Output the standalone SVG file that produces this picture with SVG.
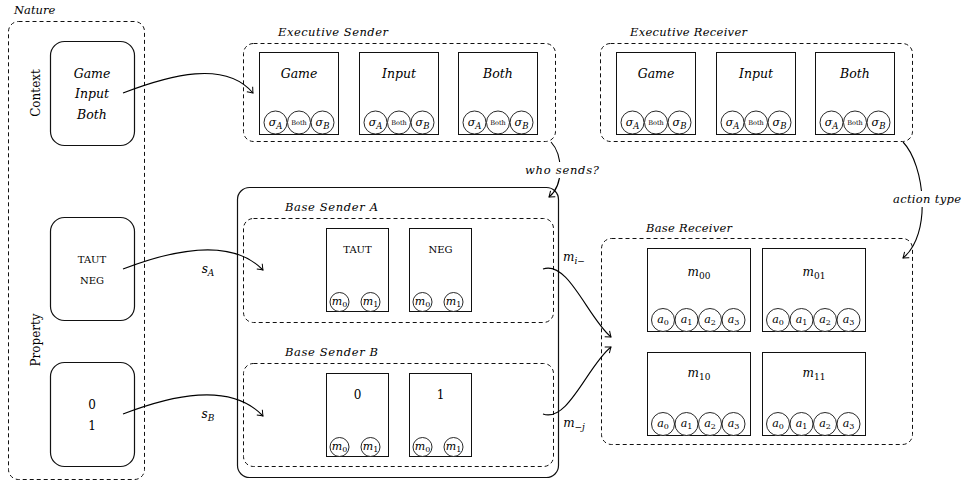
<svg xmlns="http://www.w3.org/2000/svg" width="962" height="491" viewBox="0 0 962 491">
<style>
text{font-family:'DejaVu Serif','Liberation Serif',serif;fill:#000}
.it{font-style:italic}
.dash{fill:none;stroke:#111;stroke-width:1;stroke-dasharray:4 3}
.solid{fill:none;stroke:#111;stroke-width:1.2}
.box{fill:#fff;stroke:#111;stroke-width:1}
.circ{fill:#fff;stroke:#111;stroke-width:0.9}
.conn{fill:none;stroke:#000;stroke-width:1.1;marker-end:url(#arr)}
.lbl{font-size:12px;text-anchor:middle}
.big{font-size:12.5px;font-style:italic;text-anchor:middle}
.sig{font-size:11px;text-anchor:middle}
</style>
<defs>
<marker id="arr" viewBox="-6 -5 8 10" refX="0" refY="0" markerWidth="8" markerHeight="10" orient="auto" markerUnits="userSpaceOnUse">
<path d="M-5,-3.8 Q-1.5,-1 0,0 Q-1.5,1 -5,3.8" fill="none" stroke="#000" stroke-width="1"/>
</marker>
<g id="sigrow">
<circle class="circ" cx="16" cy="0" r="11.5"/>
<circle class="circ" cx="39.5" cy="0" r="11.5"/>
<circle class="circ" cx="63" cy="0" r="11.5"/>
<text class="sig" x="16" y="3"><tspan class="it">σ</tspan><tspan font-size="8.5" dy="3" class="it">A</tspan></text>
<text x="39.5" y="2.5" font-size="6.5" text-anchor="middle">Both</text>
<text class="sig" x="63" y="3"><tspan class="it">σ</tspan><tspan font-size="8.5" dy="3" class="it">B</tspan></text>
</g>
<g id="mrow">
<circle class="circ" cx="13" cy="0" r="9.5"/>
<circle class="circ" cx="44" cy="0" r="9.5"/>
<text class="sig" x="13" y="3"><tspan class="it">m</tspan><tspan font-size="8" dy="2">0</tspan></text>
<text class="sig" x="44" y="3"><tspan class="it">m</tspan><tspan font-size="8" dy="2">1</tspan></text>
</g>
<g id="arow">
<circle class="circ" cx="15.5" cy="0" r="11.5"/>
<circle class="circ" cx="39" cy="0" r="11.5"/>
<circle class="circ" cx="62.5" cy="0" r="11.5"/>
<circle class="circ" cx="86" cy="0" r="11.5"/>
<text class="sig" x="15.5" y="3"><tspan class="it">a</tspan><tspan font-size="8" dy="2">0</tspan></text>
<text class="sig" x="39" y="3"><tspan class="it">a</tspan><tspan font-size="8" dy="2">1</tspan></text>
<text class="sig" x="62.5" y="3"><tspan class="it">a</tspan><tspan font-size="8" dy="2">2</tspan></text>
<text class="sig" x="86" y="3"><tspan class="it">a</tspan><tspan font-size="8" dy="2">3</tspan></text>
</g>
</defs>
<rect width="962" height="491" fill="#fff"/>

<g id="nature">
<rect class="dash" x="8.5" y="21.5" width="136" height="458" rx="10"/>
<text class="it" x="14" y="14" font-size="11.5">Nature</text>
<text class="lbl" transform="translate(40,93) rotate(-90)">Context</text>
<text class="lbl" transform="translate(40,340) rotate(-90)">Property</text>
</g>
<g id="context">
<rect class="solid" x="50.5" y="41.5" width="84" height="104" rx="14"/>
<text class="big" x="92" y="78">Game</text>
<text class="big" x="92" y="98">Input</text>
<text class="big" x="92" y="119">Both</text>
</g>
<g id="prop-ab">
<rect class="solid" x="50.5" y="217.5" width="84" height="103" rx="14"/>
<text x="92" y="263" font-size="10" text-anchor="middle">TAUT</text>
<text x="92" y="284" font-size="10" text-anchor="middle">NEG</text>
</g>
<g id="prop-01">
<rect class="solid" x="50.5" y="362.5" width="84" height="104" rx="14"/>
<text class="lbl" x="92" y="409">0</text>
<text class="lbl" x="92" y="430">1</text>
</g>

<g id="exec-sender">
<rect class="dash" x="243.5" y="43.5" width="312" height="98" rx="10"/>
<text class="it" x="278" y="36" font-size="11.5" textLength="110">Executive Sender</text>
<rect class="box" x="259.5" y="52.5" width="79" height="82"/>
<text class="big" x="299" y="78">Game</text>
<use href="#sigrow" x="259.5" y="122.5"/>
<rect class="box" x="359.5" y="52.5" width="79" height="82"/>
<text class="big" x="399" y="78">Input</text>
<use href="#sigrow" x="359.5" y="122.5"/>
<rect class="box" x="458.5" y="52.5" width="79" height="82"/>
<text class="big" x="498" y="78">Both</text>
<use href="#sigrow" x="458.5" y="122.5"/>
</g>

<g id="exec-receiver">
<rect class="dash" x="600.5" y="43.5" width="312" height="98" rx="10"/>
<text class="it" x="630" y="36" font-size="11.5" textLength="117">Executive Receiver</text>
<rect class="box" x="616.5" y="52.5" width="79" height="82"/>
<text class="big" x="656" y="78">Game</text>
<use href="#sigrow" x="616.5" y="122.5"/>
<rect class="box" x="716.5" y="52.5" width="79" height="82"/>
<text class="big" x="756" y="78">Input</text>
<use href="#sigrow" x="716.5" y="122.5"/>
<rect class="box" x="815.5" y="52.5" width="79" height="82"/>
<text class="big" x="855" y="78">Both</text>
<use href="#sigrow" x="815.5" y="122.5"/>
</g>

<g id="base-sender">
<rect class="solid" x="237.5" y="187.5" width="321" height="290" rx="12"/>
</g>
<g id="base-sender-a">
<rect class="dash" x="243.5" y="218.5" width="310" height="104" rx="10"/>
<text class="it" x="285" y="211" font-size="11.5" textLength="93">Base Sender A</text>
<rect class="box" x="326.5" y="228.5" width="62" height="83"/>
<text x="357.5" y="253" font-size="10" text-anchor="middle">TAUT</text>
<use href="#mrow" x="326.5" y="302"/>
<rect class="box" x="409.5" y="228.5" width="62" height="83"/>
<text x="440.5" y="253" font-size="10" text-anchor="middle">NEG</text>
<use href="#mrow" x="409.5" y="302"/>
</g>
<g id="base-sender-b">
<rect class="dash" x="243.5" y="363.5" width="310" height="103" rx="10"/>
<text class="it" x="285" y="356" font-size="11.5" textLength="93">Base Sender B</text>
<rect class="box" x="326.5" y="373.5" width="62" height="83"/>
<text class="lbl" x="357.5" y="399">0</text>
<use href="#mrow" x="326.5" y="447"/>
<rect class="box" x="409.5" y="373.5" width="62" height="83"/>
<text class="lbl" x="440.5" y="399">1</text>
<use href="#mrow" x="409.5" y="447"/>
</g>

<g id="base-receiver">
<rect class="dash" x="601.5" y="238.5" width="311" height="206" rx="10"/>
<text class="it" x="646" y="232" font-size="11.5" textLength="86">Base Receiver</text>
<rect class="box" x="647.5" y="248.5" width="103" height="83"/>
<text class="lbl" x="699" y="276"><tspan class="it">m</tspan><tspan font-size="9" dy="3">00</tspan></text>
<use href="#arow" x="647.5" y="320"/>
<rect class="box" x="762.5" y="248.5" width="103" height="83"/>
<text class="lbl" x="814" y="276"><tspan class="it">m</tspan><tspan font-size="9" dy="3">01</tspan></text>
<use href="#arow" x="762.5" y="320"/>
<rect class="box" x="647.5" y="352.5" width="103" height="83"/>
<text class="lbl" x="699" y="377"><tspan class="it">m</tspan><tspan font-size="9" dy="3">10</tspan></text>
<use href="#arow" x="647.5" y="424"/>
<rect class="box" x="762.5" y="352.5" width="103" height="83"/>
<text class="lbl" x="814" y="377"><tspan class="it">m</tspan><tspan font-size="9" dy="3">11</tspan></text>
<use href="#arow" x="762.5" y="424"/>
</g>

<g id="connectors">
<path class="conn" d="M123,93 C170,75 225,60 253,93"/>
<path class="conn" d="M123,269 C170,251 230,236 263,270"/>
<path class="conn" d="M123,414 C170,396 230,381 263,416"/>
<path class="conn" d="M551,142 C563,155 564,185 549,197"/>
<path class="conn" d="M903,142 C925,165 932,235 903,258"/>
<path class="conn" d="M543,269 C568,260 588,318 611,337"/>
<path class="conn" d="M543,414 C568,423 588,365 611,347"/>
<rect x="525" y="162" width="74" height="16" fill="#fff"/>
<text class="it" x="562" y="174" font-size="11.5" text-anchor="middle" textLength="74">who sends?</text>
<rect x="892" y="191" width="70" height="16" fill="#fff"/>
<text class="it" x="927" y="203" font-size="11.5" text-anchor="middle" textLength="68">action type</text>
<text class="lbl" x="208" y="273"><tspan class="it">s</tspan><tspan class="it" font-size="9" dy="3">A</tspan></text>
<text class="lbl" x="208" y="418"><tspan class="it">s</tspan><tspan class="it" font-size="9" dy="3">B</tspan></text>
<text class="lbl" x="574" y="261"><tspan class="it">m</tspan><tspan font-size="9" dy="3"><tspan class="it">i</tspan>−</tspan></text>
<text class="lbl" x="574" y="427"><tspan class="it">m</tspan><tspan font-size="9" dy="3">−<tspan class="it">j</tspan></tspan></text>
</g>
</svg>
